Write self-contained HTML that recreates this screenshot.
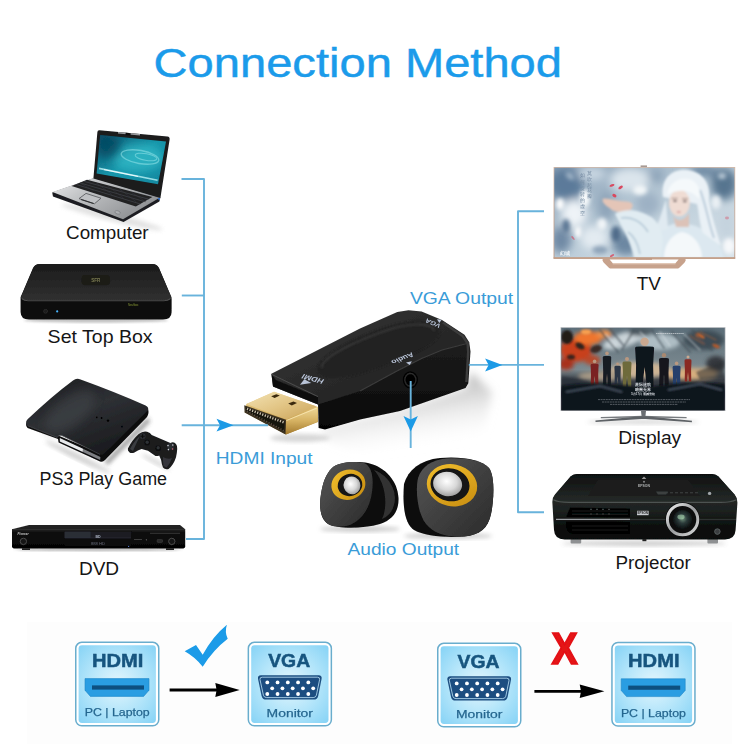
<!DOCTYPE html>
<html lang="en">
<head>
<meta charset="utf-8">
<title>Connection Method</title>
<style>
html,body{margin:0;padding:0;background:#fff;}
body{width:750px;height:750px;overflow:hidden;position:relative;font-family:"Liberation Sans",sans-serif;}
svg{position:absolute;left:0;top:0;display:block;}
text{font-family:"Liberation Sans",sans-serif;}
.lb{fill:#151515;}
.bl{fill:#3a9cd8;}
.ln{stroke:#68b3dc;stroke-width:1.9;fill:none;stroke-linecap:butt;stroke-linejoin:round;}
.ar{fill:#1c9ae6;}
</style>
</head>
<body>
<svg width="750" height="750" viewBox="0 0 750 750">
<defs>
<filter id="b05" x="-10%" y="-10%" width="120%" height="120%"><feGaussianBlur stdDeviation="0.5"/></filter>
<filter id="b1" x="-20%" y="-20%" width="140%" height="140%"><feGaussianBlur stdDeviation="1"/></filter>
<filter id="b2" x="-30%" y="-30%" width="160%" height="160%"><feGaussianBlur stdDeviation="2"/></filter>
<filter id="b4" x="-40%" y="-40%" width="180%" height="180%"><feGaussianBlur stdDeviation="4"/></filter>
<filter id="b8" x="-50%" y="-50%" width="200%" height="200%"><feGaussianBlur stdDeviation="8"/></filter>

<linearGradient id="adTop" x1="0" y1="0" x2="1" y2="1">
<stop offset="0" stop-color="#3a3a3a"/><stop offset="0.45" stop-color="#2b2b2b"/><stop offset="1" stop-color="#1c1c1c"/>
</linearGradient>
<linearGradient id="adSide" x1="0" y1="0" x2="0" y2="1">
<stop offset="0" stop-color="#1d1d1d"/><stop offset="0.6" stop-color="#111"/><stop offset="1" stop-color="#050505"/>
</linearGradient>
<linearGradient id="gold1" x1="0" y1="0" x2="1" y2="1">
<stop offset="0" stop-color="#f3e3b4"/><stop offset="0.5" stop-color="#e2c585"/><stop offset="1" stop-color="#c9a257"/>
</linearGradient>
<linearGradient id="gold2" x1="0" y1="0" x2="0" y2="1">
<stop offset="0" stop-color="#efd99a"/><stop offset="0.5" stop-color="#d6b262"/><stop offset="1" stop-color="#a37a2e"/>
</linearGradient>
<linearGradient id="adShadow" x1="0" y1="0" x2="0.3" y2="1">
<stop offset="0" stop-color="#7c7c7c" stop-opacity="0.9"/><stop offset="0.5" stop-color="#bdbdbd" stop-opacity="0.55"/><stop offset="1" stop-color="#ffffff" stop-opacity="0"/>
</linearGradient>

<radialGradient id="spkBody" cx="0.35" cy="0.3" r="0.9">
<stop offset="0" stop-color="#3a3a3a"/><stop offset="0.6" stop-color="#1c1c1c"/><stop offset="1" stop-color="#050505"/>
</radialGradient>
<linearGradient id="spkFace" x1="0" y1="0" x2="1" y2="1">
<stop offset="0" stop-color="#565656"/><stop offset="1" stop-color="#2a2a2a"/>
</linearGradient>
<radialGradient id="cone" cx="0.45" cy="0.4" r="0.7">
<stop offset="0" stop-color="#ffffff"/><stop offset="0.5" stop-color="#d8d8d8"/><stop offset="1" stop-color="#8a8a8a"/>
</radialGradient>
<linearGradient id="ringY" x1="0" y1="0" x2="1" y2="1">
<stop offset="0" stop-color="#f2c02e"/><stop offset="1" stop-color="#c78c10"/>
</linearGradient>

<linearGradient id="lapScr" x1="0" y1="0" x2="1" y2="1">
<stop offset="0" stop-color="#0a4f6a"/><stop offset="0.5" stop-color="#1796aa"/><stop offset="1" stop-color="#1188a0"/>
</linearGradient>
<linearGradient id="lapBase" x1="0" y1="0" x2="1" y2="0.6">
<stop offset="0" stop-color="#ececed"/><stop offset="0.35" stop-color="#c4c6c8"/><stop offset="1" stop-color="#8d8f92"/>
</linearGradient>
<linearGradient id="stbTop" x1="0" y1="0" x2="0" y2="1">
<stop offset="0" stop-color="#1b1b1b"/><stop offset="1" stop-color="#303030"/>
</linearGradient>
<linearGradient id="stbFront" x1="0" y1="0" x2="0" y2="1">
<stop offset="0" stop-color="#1a1a1a"/><stop offset="0.3" stop-color="#060606"/><stop offset="1" stop-color="#0c0c0c"/>
</linearGradient>
<linearGradient id="ps3Top" x1="0" y1="0" x2="0.6" y2="1">
<stop offset="0" stop-color="#1c1d20"/><stop offset="0.5" stop-color="#2e3034"/><stop offset="1" stop-color="#1a1b1e"/>
</linearGradient>
<linearGradient id="dvdFront" x1="0" y1="0" x2="0" y2="1">
<stop offset="0" stop-color="#343434"/><stop offset="0.12" stop-color="#121212"/><stop offset="1" stop-color="#030303"/>
</linearGradient>

<clipPath id="tvClip"><rect x="554.4" y="167.8" width="180" height="89.6"/></clipPath>
<clipPath id="dpClip"><rect x="561.3" y="327.9" width="163.4" height="82.3"/></clipPath>
<linearGradient id="tvBg" x1="0" y1="0" x2="1" y2="1">
<stop offset="0" stop-color="#8aa1b7"/><stop offset="0.5" stop-color="#bccdd9"/><stop offset="1" stop-color="#d8e3ea"/>
</linearGradient>
<linearGradient id="rose" x1="0" y1="0" x2="0" y2="1">
<stop offset="0" stop-color="#d9b8a2"/><stop offset="1" stop-color="#b58d76"/>
</linearGradient>
<linearGradient id="dpBg" x1="0" y1="0" x2="0" y2="1">
<stop offset="0" stop-color="#5d6f7a"/><stop offset="0.5" stop-color="#7c8a90"/><stop offset="0.62" stop-color="#3a3f46"/><stop offset="1" stop-color="#0e1118"/>
</linearGradient>
<linearGradient id="prTop" x1="0" y1="0" x2="0" y2="1">
<stop offset="0" stop-color="#0e1010"/><stop offset="1" stop-color="#252a28"/>
</linearGradient>
<linearGradient id="prFront" x1="0" y1="0" x2="0" y2="1">
<stop offset="0" stop-color="#2c312f"/><stop offset="0.55" stop-color="#1e2220"/><stop offset="0.72" stop-color="#111413"/><stop offset="1" stop-color="#060707"/>
</linearGradient>
<radialGradient id="lens" cx="0.5" cy="0.45" r="0.6">
<stop offset="0" stop-color="#6f8f7a"/><stop offset="0.4" stop-color="#2b3a3a"/><stop offset="1" stop-color="#050607"/>
</radialGradient>
<linearGradient id="lensRing" x1="0" y1="0" x2="1" y2="1">
<stop offset="0" stop-color="#f2f2f2"/><stop offset="0.5" stop-color="#9a9c9e"/><stop offset="1" stop-color="#d8d8d8"/>
</linearGradient>

<radialGradient id="icoBg" cx="0.5" cy="0.5" r="0.75">
<stop offset="0" stop-color="#e4f6fd"/><stop offset="0.5" stop-color="#b3e5fa"/><stop offset="1" stop-color="#7fd0f5"/>
</radialGradient>
<g id="icoBox">
<rect x="0.75" y="0.75" width="83" height="83.4" rx="6" fill="#ffffff" stroke="#69adcd" stroke-width="1.5"/>
<rect x="3.6" y="3.6" width="77.3" height="77.7" rx="3.4" fill="url(#icoBg)"/>
</g>
<g id="icoHDMI">
<use href="#icoBox"/>
<text x="42.6" y="25.6" font-size="18.6" font-weight="bold" fill="#18557f" stroke="#18557f" stroke-width="0.5" text-anchor="middle" textLength="51.4" lengthAdjust="spacingAndGlyphs">HDMI</text>
<path d="M10 37H74V48.6L68.6 54.8H15.4L10 48.6Z" fill="#2a9de2"/>
<path d="M10 37H74V48.6L68.6 54.8H15.4L10 48.6Z" fill="none" stroke="#1f86c8" stroke-width="0.6"/>
<rect x="17" y="43.8" width="52" height="4.2" fill="#0f4f80"/>
<text x="42.2" y="74.8" font-size="11.7" fill="#25668f" stroke="#25668f" stroke-width="0.25" text-anchor="middle" textLength="65" lengthAdjust="spacingAndGlyphs">PC | Laptop</text>
</g>
<g id="icoVGA">
<use href="#icoBox"/>
<text x="41.6" y="25.6" font-size="18.6" font-weight="bold" fill="#18557f" stroke="#18557f" stroke-width="0.5" text-anchor="middle" textLength="42" lengthAdjust="spacingAndGlyphs">VGA</text>
<path d="M13.4 33.6H71Q74.6 33.6 74 37.2L70.6 54.4Q69.8 58 66 58H18.6Q14.8 58 14 54.4L10.4 37.2Q9.8 33.6 13.4 33.6Z" fill="#1b4d80"/>
<path d="M14.6 35.6H69.8Q72.4 35.6 72 38L68.8 53.6Q68.2 56 65.6 56H19Q16.4 56 15.8 53.6L12.4 38Q12 35.6 14.6 35.6Z" fill="none" stroke="#bfe4f7" stroke-width="0.8"/>
<g fill="#ffffff">
<circle cx="19.7" cy="40.8" r="1.9"/><circle cx="29.95" cy="40.8" r="1.9"/><circle cx="40.2" cy="40.8" r="1.9"/><circle cx="50.45" cy="40.8" r="1.9"/><circle cx="60.7" cy="40.8" r="1.9"/>
<circle cx="24.6" cy="46.7" r="1.9"/><circle cx="34.85" cy="46.7" r="1.9"/><circle cx="45.1" cy="46.7" r="1.9"/><circle cx="55.35" cy="46.7" r="1.9"/><circle cx="65.6" cy="46.7" r="1.9"/>
<circle cx="19.7" cy="52.4" r="1.9"/><circle cx="29.95" cy="52.4" r="1.9"/><circle cx="40.2" cy="52.4" r="1.9"/><circle cx="50.45" cy="52.4" r="1.9"/><circle cx="60.7" cy="52.4" r="1.9"/>
</g>
<text x="42.2" y="75" font-size="11.7" fill="#25668f" stroke="#25668f" stroke-width="0.25" text-anchor="middle" textLength="46.4" lengthAdjust="spacingAndGlyphs">Monitor</text>
</g>
<clipPath id="lapClip"><path d="M100.2 135L166 141.6L158 184.2L96.6 173.6Z"/></clipPath>

</defs>

<rect width="750" height="750" fill="#ffffff"/>

<!-- title -->
<text x="153.6" y="76.5" font-size="41.5" fill="#1b9bea" stroke="#1b9bea" stroke-width="0.45" textLength="408.4" lengthAdjust="spacingAndGlyphs">Connection Method</text>



<g id="adapter">
<!-- shadow / reflection -->
<path d="M322 428L400 410L466 388L471 372L492 392L484 436L430 458L360 454L326 440Z" fill="url(#adShadow)" filter="url(#b4)"/>
<ellipse cx="300" cy="438" rx="30" ry="4" fill="#bbb" opacity="0.6" filter="url(#b2)"/>
<!-- gold plug -->
<g filter="url(#b05)">
<path d="M246.4 404.1L274.1 391.7L318 407L318 422L285.9 434.6L244.6 412.2Z" fill="url(#gold2)"/>
<path d="M246.4 404.1L274.1 391.7L316 406.2L286.2 419.6Z" fill="url(#gold1)"/>
<path d="M244.3 405.2L286 419.8L285.6 434.6L244.6 412.4Z" fill="#3a3020"/>
<path d="M246 407.4L284.6 421.2L284.4 431.6L246.2 411Z" fill="#15120c"/>
<path d="M247 408.8L283.8 422.4" stroke="#cfc6b2" stroke-width="2.4" stroke-dasharray="1.2 1.5" fill="none"/>
<path d="M247 411.2L283.8 430.6" stroke="#5a5040" stroke-width="1.6" stroke-dasharray="1.2 1.5" fill="none"/>
<path d="M286.2 419.9L317.6 406.9L317.8 421.8L285.8 434.5Z" fill="url(#gold2)"/>
<path d="M271.2 396.2L276.3 394.2L279.8 395.6L274.6 397.9Z" fill="#3b2a10"/>
<path d="M288.2 403.6L293.4 401.4L297 403L291.8 405.4Z" fill="#3b2a10"/>
<path d="M286.5 420.5L317 408" stroke="#fbe9b5" stroke-width="1" fill="none" opacity="0.8"/>
</g>
<!-- body -->
<g filter="url(#b05)">
<path d="M318 403L360 389L397 368L421.6 355.3L442 346L469.2 342.3L470.5 351.6L468.3 383.3L465.5 388L400 411L360 419.5L325 429.5L318.6 428Z" fill="url(#adSide)"/>
<path d="M271.4 373.8L360 328.6L397.3 312L408.5 310.2L421.6 311.5L442 320L464.5 334.8L469.4 342.6L442 350L421.6 358.5L397 371L360 391L318 404.5L273 386.5Z" fill="url(#adTop)"/>
<!-- front-left lip above plug -->
<path d="M271.4 373.8L273 386.5L318 404.5L318 397L276 380Z" fill="#111"/>
<path d="M271.6 374.4L318 396.6" stroke="#555" stroke-width="0.8" fill="none"/>
</g>
<!-- raised oval -->
<path d="M318 372C312 360 350 338 392 325C420 317 442 322 440 333C437 345 410 356 384 366C352 378 324 384 318 372Z" fill="#232323" filter="url(#b1)"/>
<path d="M322 368C320 358 356 340 394 328C416 322 434 324 434 331" stroke="#3d3d3d" stroke-width="1.6" fill="none" filter="url(#b1)"/>
<!-- right-edge highlight -->
<path d="M443 322.6L462.6 336L467.6 343.4L468.2 352L466.4 382" stroke="#3c3c3c" stroke-width="2.4" fill="none" filter="url(#b05)"/>
<path d="M360 391L397 371L421.6 358.5L442 350L469 343" stroke="#3c3c3c" stroke-width="1.2" fill="none" filter="url(#b05)"/>
<!-- audio jack -->
<g filter="url(#b05)">
<ellipse cx="410.4" cy="379.8" rx="7.6" ry="8.6" fill="#060606"/>
<ellipse cx="410.4" cy="379.8" rx="5.6" ry="6.4" fill="none" stroke="#2e2e2e" stroke-width="1.2"/>
<ellipse cx="410.6" cy="380" rx="3" ry="3.6" fill="#000"/>
</g>
<!-- tiny labels -->
<g fill="#b9c4d8" font-weight="bold" filter="url(#b05)" text-anchor="middle">
<text transform="translate(312.7 379) rotate(195.5) skewX(-18)" y="2.5" font-size="7" textLength="22" lengthAdjust="spacingAndGlyphs">HDMI</text>
<path d="M300 384.7L311.3 383L304.3 379.3Z"/>
<text transform="translate(402.8 358.5) rotate(157.4) skewX(18)" y="2.4" font-size="6.6" textLength="23" lengthAdjust="spacingAndGlyphs">Audio</text>
<path d="M406 362.4L411.9 361.3L409.7 365Z"/>
<text transform="translate(432.7 323.3) rotate(204) skewX(-15)" y="2.2" font-size="6" textLength="16" lengthAdjust="spacingAndGlyphs">VGA</text>
<path d="M437 319.2L441.7 319.7L439.3 323Z"/>
</g>
</g>
<g id="speakers">
<ellipse cx="360" cy="529" rx="40" ry="3" fill="#999" opacity="0.5" filter="url(#b2)"/>
<ellipse cx="448" cy="536" rx="44" ry="3" fill="#999" opacity="0.5" filter="url(#b2)"/>
<!-- left speaker -->
<g filter="url(#b05)">
<path d="M332 468C338 462 356 461 368 463C386 467 398 482 398.5 498C399 512 392 520 380 524C362 529 338 529 328 524C320 519 319 506 321 494C323 482 326 474 332 468Z" fill="#0b0b0b"/>
<path d="M332 468C338 462 354 461 364 463C372 466 374 478 372 492C370 508 362 520 350 525C340 528 330 527 326 522C320 516 319 506 321 494C323 482 326 474 332 468Z" fill="url(#spkFace)"/>
<path d="M374 470C386 474 395 486 395 498C395 508 390 516 382 519C388 506 386 484 374 470Z" fill="#3a3a3a" opacity="0.8"/>
<ellipse cx="348.4" cy="484.7" rx="17.2" ry="15" transform="rotate(-18 348.4 484.7)" fill="url(#ringY)"/>
<ellipse cx="350" cy="485" rx="12.4" ry="11" transform="rotate(-18 350 485)" fill="#141414"/>
<ellipse cx="352" cy="485.4" rx="8.4" ry="9" transform="rotate(-18 352 485.4)" fill="url(#cone)"/>
</g>
<!-- right speaker -->
<g filter="url(#b05)">
<path d="M404 484C408 470 420 460 440 458C462 456 482 460 489 468C495 476 494 500 491 514C488 528 480 535 464 536.5C446 538 424 536 414 530C406 525 402 510 404 484Z" fill="#0a0a0a"/>
<path d="M418 478C422 466 432 460 446 458.5C464 457 482 460 489 468C495 476 494 500 491 514C488 528 480 535 464 536.5C448 537.5 434 534 426 524C418 514 415 492 418 478Z" fill="url(#spkFace)"/>
<ellipse cx="452" cy="485.2" rx="25.4" ry="21" transform="rotate(12 452 485.2)" fill="url(#ringY)"/>
<ellipse cx="450" cy="484.8" rx="19.6" ry="16.4" transform="rotate(12 450 484.8)" fill="#121212"/>
<ellipse cx="447.6" cy="484" rx="14.6" ry="12.2" transform="rotate(12 447.6 484)" fill="url(#cone)"/>
</g>
</g>
<g id="laptop" filter="url(#b05)">
<ellipse cx="112" cy="217" rx="52" ry="4" fill="#aaa" opacity="0.35" filter="url(#b2)" transform="rotate(14 112 217)"/>
<!-- base -->
<path d="M52.2 192.4L93.6 178.2L160.4 197.6L159.4 201.4L123.6 222L53 196.6Z" fill="#1d1e20"/>
<path d="M52.4 192L93.6 178L160 197.6L123 219.2Z" fill="url(#lapBase)"/>
<!-- keyboard -->
<path d="M87 179.8L152.4 197L135.8 206.6L71.6 186Z" fill="#202124"/>
<path d="M84.2 181.4L148.6 199.2M80.4 183L144.4 201.6M76.4 184.6L140.4 204" stroke="#45464a" stroke-width="0.7" fill="none"/>
<path d="M80 183L94 191M96 182.6L112 194.6M108 186L124 198.6M120 189.4L136 201.6M132 192.6L146 202" stroke="#3a3b3f" stroke-width="0.5" fill="none"/>
<!-- touchpad -->
<path d="M86 193.4L101 198.2L94.4 203.8L79 198.6Z" fill="#bfc1c4" stroke="#5e6063" stroke-width="0.9"/>
<path d="M81 199.4L93.6 203.6" stroke="#2e2f31" stroke-width="1.1"/>
<ellipse cx="117.6" cy="212.4" rx="2.8" ry="1.6" fill="#aeb0b3" stroke="#6e7073" stroke-width="0.5" transform="rotate(18 117.6 212.4)"/>
<!-- lid -->
<path d="M99.4 130.2L167.4 136.6Q170 137 169.6 139.6L160.4 198L93.4 178.6L97.4 132Q97.6 130 99.4 130.2Z" fill="#1a1b1d"/>
<path d="M100.2 135L166 141.6L158 184.2L96.6 173.6Z" fill="url(#lapScr)"/>
<g clip-path="url(#lapClip)"><ellipse cx="138" cy="158" rx="26" ry="14" fill="#3cc6d2" opacity="0.55" filter="url(#b4)"/>
<ellipse cx="108" cy="146" rx="12" ry="12" fill="#063c54" opacity="0.6" filter="url(#b4)"/></g>
<!-- swirl -->
<g fill="none" stroke="#9feaee" opacity="0.5">
<ellipse cx="140" cy="157" rx="19" ry="6.6" transform="rotate(10 140 157)" stroke-width="1.4"/>
<ellipse cx="146" cy="157" rx="11" ry="3.4" transform="rotate(10 146 157)" stroke-width="1"/>
</g>
<path d="M99 168.4L157.6 180.2" stroke="#b9f2f5" stroke-width="1.6" opacity="0.8"/>
<path d="M104 169.6L138 176.4" stroke="#ffffff" stroke-width="1" opacity="0.85"/>
<path d="M118 132.8L140 134.8" stroke="#9a9c9f" stroke-width="1.4"/>
<rect x="125.6" y="133" width="5" height="2.2" fill="#0a0a0b" transform="rotate(5.5 128 134)"/>
<path d="M157.4 198.6L160 197.8L159.6 200.6Z" fill="#3e7fe0"/>
</g>
<g id="stb" filter="url(#b05)">
<ellipse cx="96" cy="320.4" rx="72" ry="2.4" fill="#888" opacity="0.5" filter="url(#b1)"/>
<path d="M20.6 299Q20.4 296.6 22 294L33 268Q35 264 40 264L152 264Q157 264 159 268L170 294Q171.6 296.6 171.6 299L171.6 312Q171.6 319.4 163 319.4L29 319.4Q20.6 319.4 20.6 312Z" fill="url(#stbFront)"/>
<path d="M21 297.4Q21.4 295.6 22.4 293.4L33.4 268Q35 264 40 264L152 264Q157 264 158.8 268L169.8 293.4Q170.8 295.6 171.2 297.4Q171 300 166 300L26 300Q21 300 21 297.4Z" fill="url(#stbTop)"/>
<path d="M22 298.6Q24 300.8 28 300.8L164 300.8Q168 300.8 170.4 298.6" stroke="#505050" stroke-width="1.1" fill="none"/>
<rect x="81.4" y="275" width="28.8" height="10.2" rx="4" fill="#1b1b14"/>
<text x="95.8" y="282.4" font-size="4.6" fill="#7a7a52" text-anchor="middle" font-weight="bold">SFR</text>
<circle cx="57.2" cy="311.4" r="1.1" fill="#49b6ff"/>
<circle cx="45.6" cy="311.2" r="2" fill="#1c1c1c" stroke="#2d2d2d" stroke-width="0.8"/>
<text x="128" y="306.4" font-size="2.8" fill="#8a9a3a">Neufbox</text>
</g>
<g id="ps3" filter="url(#b05)">
<ellipse cx="78" cy="457" rx="36" ry="3" fill="#999" opacity="0.45" filter="url(#b2)" transform="rotate(26 78 457)"/>
<path d="M104 462L148 417L150 422L108 465Z" fill="#555" opacity="0.55" filter="url(#b2)"/>
<!-- lower body -->
<path d="M26 423.4L57 435L102 454L148 409Q149.4 413 147 417L105 460Q102.6 462.6 100 461.4L58.6 442.6L58 439L27.6 428Q25.8 426.6 26 423.4Z" fill="#0b0b0c"/>
<!-- slot face -->
<path d="M59.8 438L83 448.8L82.8 452L59.8 441.4Z" fill="#e8eaec"/>
<path d="M83 448.8L100.4 457L100.2 460L82.8 452Z" fill="#7d7f83"/>
<!-- top shell -->
<path d="M26 423.4Q25.4 421.2 27.6 419.2Q52 396 73 380.4Q76.6 377.8 80.6 379.6Q116 392.4 145.6 405.6Q149 407.2 148 410.2L104.4 453.6Q102.6 455.4 100 454.4L62.9 436Q59 434.2 57.2 437.4L27.6 425.8Q26.2 425.2 26 423.4Z" fill="url(#ps3Top)"/>
<ellipse cx="70" cy="412" rx="30" ry="14" fill="#45484d" opacity="0.5" filter="url(#b4)" transform="rotate(-38 70 412)"/>
<path d="M27.6 425.8L57.2 437.4Q59 434.2 62.9 436L100 454.4" stroke="#4c4e52" stroke-width="0.7" fill="none"/>
<circle cx="96.8" cy="417.4" r="0.8" fill="#000"/><circle cx="101.6" cy="418" r="0.9" fill="#000"/><circle cx="108" cy="420.6" r="1.2" fill="#000"/><circle cx="122" cy="426.6" r="0.9" fill="#000"/>
<!-- controller -->
<g>
<ellipse cx="156" cy="462" rx="16" ry="2.4" fill="#999" opacity="0.35" filter="url(#b2)" transform="rotate(28 156 462)"/>
<path d="M127.9 448.5Q132 440 138.7 434Q143 430.6 147.1 431.7Q150.4 432.6 151.7 434.9L170.4 442.9Q174 441.4 176 444Q177.6 446 177.2 449Q177 453 176 457.3Q173.6 465 168.6 469Q165 470 163 467.6Q161.6 464 161.1 460.1L159.2 455.5Q157.4 456.4 155.5 455.9L148 450.8L141.5 448.9Q138 450 134 452.7Q131 453.6 129.3 452.2Q127.4 450.6 127.9 448.5Z" fill="#1a1b1e"/>
<path d="M130 449Q134 441 140 436Q136 444 133 451Z" fill="#3a3c40"/>
<path d="M163.6 466Q162.6 461 163 457Q168 460 172 458Q170 464 166.6 467.6Z" fill="#34363a"/>
<circle cx="142.6" cy="436.2" r="3" fill="#2c2e32"/>
<path d="M140.6 436.2H144.6M142.6 434.2V438.2" stroke="#0c0c0e" stroke-width="1.1"/>
<circle cx="170.6" cy="446.4" r="3.3" fill="#2c2e32"/>
<circle cx="147.2" cy="442.6" r="2.8" fill="#0a0a0c"/><circle cx="147.2" cy="442.2" r="1.7" fill="#2e3034"/>
<circle cx="158.2" cy="448.2" r="2.8" fill="#0a0a0c"/><circle cx="158.2" cy="447.8" r="1.7" fill="#2e3034"/>
<circle cx="172.8" cy="445" r="0.8" fill="#c9ccd2"/><circle cx="168" cy="445.6" r="0.8" fill="#c9ccd2"/>
<circle cx="172.6" cy="449" r="0.8" fill="#d0687a"/><circle cx="168.4" cy="449.6" r="0.8" fill="#c9ccd2"/>
</g>
</g>
<g id="dvd" filter="url(#b05)">
<ellipse cx="98" cy="549.6" rx="84" ry="1.6" fill="#777" opacity="0.5" filter="url(#b1)"/>
<path d="M29 525L180 525L185.2 529.2L12 529.2Z" fill="#232323"/>
<path d="M12 529L185.2 529L185.2 546.6Q185.2 548.4 183.4 548.4L13.8 548.4Q12 548.4 12 546.6Z" fill="url(#dvdFront)"/><rect x="22" y="548.2" width="8" height="1.8" fill="#222"/><rect x="166" y="548.2" width="8" height="1.8" fill="#222"/>
<rect x="64.6" y="531.6" width="66.6" height="14" fill="#0a0b0e"/>
<rect x="64.6" y="531.6" width="66.6" height="6.4" fill="#1a1c22"/>
<rect x="64.6" y="531.6" width="26" height="6.4" fill="#2a2d36"/>
<path d="M64.8 538H131" stroke="#34363e" stroke-width="0.6"/>
<text x="98" y="537.6" font-size="3.6" fill="#aab0c0" text-anchor="middle" font-weight="bold">BD</text>
<text x="98" y="545" font-size="4.2" fill="#6a6e78" text-anchor="middle">888 HD</text>
<circle cx="23.4" cy="541.4" r="3.2" fill="#191919" stroke="#505050" stroke-width="0.9"/>
<circle cx="171.8" cy="541.4" r="3.2" fill="#191919" stroke="#505050" stroke-width="0.9"/>
<text x="17.6" y="534.6" font-size="3" fill="#c8c8c8" font-style="italic" font-weight="bold">Pioneer</text>
<rect x="157" y="539.4" width="5.6" height="3" rx="1" fill="#2a2a2a" stroke="#555" stroke-width="0.4"/>
<path d="M134 539.6H142" stroke="#666" stroke-width="0.6"/>
<circle cx="146.4" cy="539.8" r="0.6" fill="#777"/>
<circle cx="128.6" cy="546.4" r="0.6" fill="#5a7ad0"/>
<path d="M150 533.4H180" stroke="#555" stroke-width="0.5"/>
</g>
<g id="tv">
<rect x="553.6" y="167" width="181.6" height="91.8" fill="url(#rose)"/>
<g clip-path="url(#tvClip)">
<rect x="554" y="167" width="181" height="91" fill="url(#tvBg)"/>
<g filter="url(#b4)">
<ellipse cx="566" cy="184" rx="18" ry="16" fill="#5b7a9a"/>
<ellipse cx="592" cy="174" rx="14" ry="7" fill="#c9d7e2"/>
<ellipse cx="574" cy="214" rx="13" ry="14" fill="#eef3f7"/>
<ellipse cx="561" cy="240" rx="10" ry="13" fill="#7089a4"/>
<ellipse cx="594" cy="238" rx="14" ry="12" fill="#e3ebf1"/>
<ellipse cx="606" cy="206" rx="9" ry="16" fill="#8fa5ba"/>
<ellipse cx="630" cy="180" rx="20" ry="12" fill="#dbe5ec"/>
<ellipse cx="648" cy="204" rx="12" ry="12" fill="#9db1c4"/>
<ellipse cx="724" cy="184" rx="13" ry="16" fill="#56748f"/>
<ellipse cx="727" cy="226" rx="9" ry="16" fill="#c5d3de"/>
<ellipse cx="704" cy="171" rx="14" ry="6" fill="#6a86a0"/>
<ellipse cx="626" cy="244" rx="14" ry="12" fill="#6c87a2"/>
<ellipse cx="656" cy="176" rx="8" ry="7" fill="#8ea4b9"/>
</g>
<g filter="url(#b2)">
<ellipse cx="585" cy="198" rx="5" ry="9" fill="#f6f9fb"/>
<ellipse cx="566" cy="226" rx="4" ry="7" fill="#5b7794"/>
<ellipse cx="578" cy="232" rx="3" ry="6" fill="#ffffff"/>
<ellipse cx="602" cy="224" rx="5" ry="6" fill="#f1f5f8"/>
<ellipse cx="616" cy="234" rx="5" ry="8" fill="#506c8a"/>
<ellipse cx="640" cy="190" rx="7" ry="5" fill="#f2f6f8"/>
<ellipse cx="560" cy="204" rx="4" ry="6" fill="#ffffff"/>
<ellipse cx="570" cy="176" rx="5" ry="3" fill="#9fb3c6" transform="rotate(40 570 176)"/>
<ellipse cx="716" cy="202" rx="5" ry="7" fill="#eaf0f4"/>
<ellipse cx="729" cy="246" rx="6" ry="8" fill="#f6f8fa"/>
<ellipse cx="722" cy="176" rx="4" ry="3" fill="#c0cfdb"/>
<ellipse cx="600" cy="250" rx="8" ry="4" fill="#8da3b8"/>
</g>
<!-- figure: garments, hair, face (abstract) -->
<g filter="url(#b1)">
<path d="M646 258C648 238 660 226 678 223C702 224 720 236 724 258Z" fill="#dce8f0"/>
<path d="M664 258C664 244 672 234 682 232C694 234 702 246 702 258Z" fill="#f4f8fa"/>
<path d="M663 197C660 178 673 168 688 170C703 172 711 184 709 200C711 214 716 230 721 246L703 233C699 222 699 212 697 204Z" fill="#eaf1f6"/>
<path d="M700 190C706 204 708 222 714 238" stroke="#bccddb" stroke-width="2" fill="none"/>
<path d="M666 200C662 210 660 222 653 233L668 229Z" fill="#e0eaf1"/>
<ellipse cx="679.4" cy="203" rx="10.4" ry="13.4" fill="#efdcd3"/>
<path d="M667 195C669 182 680 176 692 180C699 184 701 192 699 199C692 190 680 188 667 195Z" fill="#f5f9fb"/>
<path d="M671.6 198.4H677.6M682 198.8H688" stroke="#8d7772" stroke-width="0.9"/>
<ellipse cx="675" cy="201" rx="2" ry="0.9" fill="#6f5f60"/><ellipse cx="684.8" cy="201.4" rx="2" ry="0.9" fill="#6f5f60"/>
<ellipse cx="678.8" cy="212" rx="2.2" ry="0.8" fill="#cf8f8f"/>
<path d="M673 215C676 222 684 222 689 213L689 227L676 227Z" fill="#dcc2b8"/>
<!-- hand and sleeve -->
<path d="M603 198.6C609 197.6 618 201.4 626 201.4C632.6 201.4 634.6 205.6 630.6 209.8C622 214 613.6 212 609.6 208C605.6 206 601 201.6 603 198.6Z" fill="#e4c5b7"/>
<path d="M615 214C625 207.6 640 209.6 652 217.6C662.6 226 665 240 661 258L634 258C630 240 621.6 226 615 214Z" fill="#e1ecf2"/>
<path d="M621 218C632 216 642 222 648 232M628 232C634 236 638 244 640 254" stroke="#b6cad8" stroke-width="1.6" fill="none"/>
</g>
<!-- petals -->
<g fill="#d9485e" filter="url(#b05)">
<ellipse cx="612" cy="185.4" rx="2.6" ry="1.1" transform="rotate(-20 612 185.4)"/>
<ellipse cx="620.6" cy="187.4" rx="2.6" ry="1.3" transform="rotate(-35 620.6 187.4)"/>
<ellipse cx="614.4" cy="195.6" rx="2.2" ry="1.6" transform="rotate(30 614.4 195.6)"/>
<ellipse cx="573" cy="238" rx="2.4" ry="0.9" transform="rotate(50 573 238)" opacity="0.6"/>
<ellipse cx="612" cy="255.6" rx="2.4" ry="1" transform="rotate(-30 612 255.6)" opacity="0.8"/>
<ellipse cx="727" cy="218" rx="2" ry="1.4" opacity="0.4"/>
</g>
<!-- vertical caption -->
<g font-family="'Liberation Sans','Noto Sans CJK SC',sans-serif" font-size="5.4" fill="#7389a0" filter="url(#b05)" text-anchor="middle">
<text><tspan x="589.6" y="175">莫</tspan><tspan x="589.6" y="180.8">吹</tspan><tspan x="589.6" y="186.6">起</tspan><tspan x="589.6" y="192.4">花</tspan><tspan x="589.6" y="198.2">瓣</tspan></text>
<text><tspan x="582" y="177.4">如</tspan><tspan x="582" y="183.6">何</tspan><tspan x="582" y="189.8">旋</tspan><tspan x="582" y="196">转</tspan><tspan x="582" y="202.2">的</tspan><tspan x="582" y="208.4">虚</tspan><tspan x="582" y="214.6">空</tspan></text>
</g>
<g fill="#eef3f7" font-size="5" font-weight="bold" filter="url(#b05)" font-family="'Liberation Sans','Noto Sans CJK SC',sans-serif"><text x="560" y="255">幻城</text></g>
</g>
<!-- stand -->
<path d="M602.8 258.6H685.4Q686.4 260.6 684.6 262.4L679.6 267.4Q678.4 268.6 676.4 268.6H611.8Q609.8 268.6 608.6 267.4L603.6 262.4Q601.8 260.6 602.8 258.6Z" fill="#c7a28c"/>
<path d="M609.6 259.6H678.6L675.4 263.2H612.8Z" fill="#ffffff"/>
<path d="M612.8 263.8H675.4" stroke="#e6cdbd" stroke-width="1" />
<path d="M553.6 258H735.2" stroke="#c4a08a" stroke-width="1.4"/>
<rect x="636" y="258" width="16" height="1.8" fill="#c09a84"/>
<rect x="640.6" y="165.4" width="6.4" height="1.6" fill="#a79a94"/>
</g>
<g id="display">
<ellipse cx="643" cy="422" rx="56" ry="2" fill="#999" opacity="0.4" filter="url(#b2)"/>
<rect x="560.6" y="327.2" width="164.8" height="83.8" fill="#a9adb2"/>
<g clip-path="url(#dpClip)">
<rect x="561" y="328" width="164" height="83" fill="url(#dpBg)"/>
<g filter="url(#b2)">
<ellipse cx="576" cy="350" rx="16" ry="12" fill="#c8401c"/>
<ellipse cx="588" cy="338" rx="14" ry="7" fill="#ee742e"/>
<ellipse cx="604" cy="334" rx="8" ry="4" fill="#f09048"/>
<ellipse cx="566" cy="364" rx="8" ry="6" fill="#a8321c"/>
<ellipse cx="592" cy="360" rx="8" ry="5" fill="#b8482a"/>
<ellipse cx="624" cy="340" rx="22" ry="7" fill="#c9d3d8" transform="rotate(-18 624 340)"/>
<ellipse cx="660" cy="342" rx="20" ry="8" fill="#aebdc4"/>
<ellipse cx="640" cy="332" rx="12" ry="4" fill="#4a565e"/>
<ellipse cx="704" cy="340" rx="20" ry="10" fill="#3c4c54"/>
<ellipse cx="716" cy="364" rx="10" ry="8" fill="#34383c"/>
<ellipse cx="690" cy="374" rx="28" ry="6" fill="#d6ae7e"/>
<ellipse cx="640" cy="370" rx="30" ry="8" fill="#ccb494"/>
<ellipse cx="604" cy="376" rx="26" ry="5" fill="#a79a86"/>
<ellipse cx="580" cy="394" rx="22" ry="8" fill="#161e2c"/>
<ellipse cx="706" cy="394" rx="22" ry="8" fill="#182434"/>
<ellipse cx="643" cy="400" rx="44" ry="8" fill="#090b10"/>
</g>
<g filter="url(#b1)">
<ellipse cx="567" cy="337" rx="6" ry="7" fill="#241a18"/>
<ellipse cx="580" cy="346" rx="5" ry="3" fill="#2e201c" transform="rotate(30 580 346)"/>
<ellipse cx="596" cy="349" rx="6" ry="3.6" fill="#3a2a26" transform="rotate(-20 596 349)"/>
<ellipse cx="571" cy="357" rx="4" ry="2.6" fill="#3a221c"/>
<ellipse cx="586" cy="332" rx="5" ry="2.4" fill="#f8a050"/>
<ellipse cx="700" cy="336" rx="5" ry="2" fill="#c8642c" transform="rotate(25 700 336)"/>
<ellipse cx="716" cy="346" rx="4" ry="1.6" fill="#b85a2a" transform="rotate(25 716 346)"/>
</g>
<g stroke-linecap="round" filter="url(#b1)" opacity="0.55">
<path d="M600 330L618 352M610 329L624 346M634 330L622 350M652 330L664 348M672 332L690 352M692 330L712 350" stroke="#3f4a52" stroke-width="2"/>
<path d="M606 334L616 346M660 332L670 346M684 334L700 350M640 332L648 340" stroke="#dfe6ea" stroke-width="1.4"/>
<path d="M700 332L716 340M690 336L704 344" stroke="#c9662e" stroke-width="1.2"/>
<path d="M696 372L722 362L724 378L700 380Z" fill="#2c2e32" stroke="none"/>
<path d="M562 376L590 382L580 388L562 386Z" fill="#232a36" stroke="none"/>
</g>
<g filter="url(#b05)"><circle cx="594.6" cy="361.4" r="1.8" fill="#b99880"/><path d="M590.6 365.1Q590.6 363.7 592.6 363.7H596.6Q598.6 363.7 598.6 365.1L598.2 373.9L598.4 385.6H595.6L594.6 375.9L593.6 385.6H590.8L591.0 373.9Z" fill="#7a2420"/><circle cx="607" cy="353.4" r="1.8" fill="#b99880"/><path d="M602.8 357.3Q602.8 355.9 604.9 355.9H609.1Q611.2 355.9 611.2 357.3L610.8 371.4L611.0 387.6H608.0L607.0 373.4L606.0 387.6H603.0L603.2 371.4Z" fill="#191b22"/><circle cx="617.6" cy="363.8" r="1.4" fill="#b99880"/><path d="M614.4 367.2Q614.4 365.8 616.0 365.8H619.2Q620.8 365.8 620.8 367.2L620.5 374.5L620.6 384.4H618.4L617.6 376.5L616.8 384.4H614.6L614.7 374.5Z" fill="#2a3444"/><circle cx="627" cy="359.0" r="2.0" fill="#b99880"/><path d="M622.5 363.0Q622.5 361.6 624.8 361.6H629.2Q631.5 361.6 631.5 363.0L631.0 373.5L631.3 387.0H628.1L627.0 375.5L625.9 387.0H622.7L623.0 373.5Z" fill="#6e6a3a"/><circle cx="644.6" cy="341.8" r="4.2" fill="#c9a890"/><path d="M635.1 348.0Q635.1 346.6 639.9 346.6H649.4Q654.1 346.6 654.1 348.0L653.1 365.1L653.6 387.6H647.0L644.6 367.1L642.2 387.6H635.6L636.1 365.1Z" fill="#10121a"/><circle cx="664" cy="355.2" r="2.2" fill="#a88870"/><path d="M659.0 359.4Q659.0 358.0 661.5 358.0H666.5Q669.0 358.0 669.0 359.4L668.5 372.8L668.8 389.0H665.2L664.0 374.8L662.8 389.0H659.2L659.5 372.8Z" fill="#15171e"/><circle cx="676.6" cy="363.4" r="1.8" fill="#b99880"/><path d="M672.6 367.1Q672.6 365.7 674.6 365.7H678.6Q680.6 365.7 680.6 367.1L680.2 375.9L680.4 387.6H677.6L676.6 377.9L675.6 387.6H672.8L673.0 375.9Z" fill="#28416c"/><circle cx="688" cy="357.1" r="1.5" fill="#c9a890"/><path d="M684.5 360.7Q684.5 359.3 686.2 359.3H689.8Q691.5 359.3 691.5 360.7L691.1 369.9L691.3 381.6H688.9L688.0 371.9L687.1 381.6H684.7L684.9 369.9Z" fill="#8a2a22"/></g>
<g filter="url(#b1)"><path d="M561 386Q600 380 643 388Q690 380 725 384V411H561Z" fill="#10141c"/>
<path d="M566 392L600 386L622 392M668 390L700 384L722 390" stroke="#4a5666" stroke-width="1.4" fill="none"/></g>
<g fill="#d2d6dc" font-size="3.8" font-weight="bold" text-anchor="middle" filter="url(#b05)" font-family="'Liberation Sans','Noto Sans CJK SC',sans-serif">
<text x="643" y="386.4">星际迷航</text>
<text x="643" y="391.4" font-size="4.2">暗黑无界</text>
<text x="643" y="395.4" font-size="2.8">5月17日 震撼登陆</text>
</g>
<path d="M598 399.6H690M602 402H686M610 404.4H678" stroke="#9da1a7" stroke-width="0.7" stroke-dasharray="2 0.6" opacity="0.7"/>
<path d="M656 333.4H684" stroke="#e2e6e9" stroke-width="0.8" stroke-dasharray="1.6 0.5" opacity="0.85"/>
</g>
<!-- stand -->
<path d="M641 411H646L645.4 416.6H641.6Z" fill="#6a6e72"/>
<path d="M600.8 417L643 415.8L686.6 417L686.6 418.2L643 417.4L600.8 418.2Z" fill="#777b7f"/><path d="M595.4 420.6L641 416.2H646L692 420.8L691.8 422.2L645.6 419H641.4L595.6 422Z" fill="#5e6266"/>
</g>
<g id="projector" filter="url(#b05)">
<ellipse cx="644" cy="543.4" rx="82" ry="2.4" fill="#888" opacity="0.45" filter="url(#b2)"/>
<rect x="570.6" y="538.4" width="10.6" height="5" rx="1" fill="#8e9092"/>
<rect x="707.4" y="538.4" width="10.6" height="5" rx="1" fill="#8e9092"/>
<path d="M552.4 503Q552 498 555 494.6L570.6 476.6Q573 474 577 474L712 474Q716 474 718.4 476.6L734.6 494.6Q737.6 498 737.4 503L735.6 530Q735 539.4 725 539.4L564.6 539.4Q554.6 539.4 554 530Z" fill="url(#prFront)"/>
<path d="M553 499.4Q553.6 496.4 555.4 494.2L570.6 476.6Q573 474 577 474L712 474Q716 474 718.4 476.6L734.2 494.2Q736 496.4 736.6 499.4Q731 501.6 721 501.6L569 501.6Q559 501.6 553 499.4Z" fill="url(#prTop)"/>
<path d="M553.4 499.8Q558 502.4 569 502.4L721 502.4Q731 502.4 736.4 499.8" stroke="#4d5351" stroke-width="1.1" fill="none"/>
<!-- top details -->
<path d="M598 480L688 480L700 496L588 496Z" fill="#1b1e1e"/>
<text x="644" y="486.8" font-size="3.4" fill="#b4b4b4" text-anchor="middle" font-weight="bold">EPSON</text>
<path d="M641.6 479L644 476.4L646.4 479Z" fill="#999"/><circle cx="644" cy="481.8" r="1" fill="#888"/>
<circle cx="709.6" cy="493.4" r="1.7" fill="#a0a6aa"/>
<path d="M660 492.8H698" stroke="#4a4e4e" stroke-width="0.8" stroke-dasharray="3 2"/>
<path d="M656 491.6L668 491.6L666 494.6L658 494.6Z" fill="#3c4040"/>
<!-- vents -->
<path d="M570 507.4L630 508.6L630 517.6L566 517Z" fill="#050606"/>
<path d="M566 521.4L630 522L630 534L572 534Q567 533 566 528Z" fill="#050606"/>
<path d="M556 519.4H630" stroke="#9a9ea2" stroke-width="1.1"/>
<path d="M630 519.4H736" stroke="#3a3e3e" stroke-width="0.8"/>
<path d="M572 511H628M572 514.4H628M572 526H628M572 530H628" stroke="#1b1e1e" stroke-width="0.8"/>
<path d="M590 509.4H612M590 514H612" stroke="#3a4040" stroke-width="1.1" stroke-dasharray="2 4"/>
<rect x="637" y="510.8" width="11.6" height="4.4" fill="#c8ccd0"/>
<text x="642.8" y="514.3" font-size="3" fill="#222" text-anchor="middle" font-weight="bold">EPSON</text>
<!-- lens -->
<circle cx="682.6" cy="519.6" r="17.4" fill="#0a0b0b"/>
<circle cx="682.6" cy="519.6" r="15.2" fill="none" stroke="url(#lensRing)" stroke-width="3"/>
<circle cx="682.6" cy="519.6" r="12.6" fill="#0b0c0d"/>
<circle cx="682.6" cy="519.6" r="9.6" fill="url(#lens)"/>
<ellipse cx="681" cy="517" rx="3.6" ry="2.4" fill="#a9d6b0" opacity="0.6"/>
<circle cx="717.4" cy="531.6" r="2.8" fill="#3a3e40" stroke="#6a6e70" stroke-width="0.7"/>
<rect x="642.4" y="538.8" width="4" height="2.4" fill="#222"/>
</g>

<!-- connection lines -->
<g id="lines">
<path class="ln" d="M181.5 179H204V539H186"/>
<path class="ln" d="M181.8 295.5H204"/>
<path class="ln" d="M181.7 425.2H268"/>
<path class="ln" d="M544 211.2H518V512.2H544"/>
<path class="ln" d="M468.8 364.9H544"/>
<path class="ln" d="M410.7 381V448"/>
<path class="ar" d="M233.5 425.2L216.5 418.8L220 425.2L216.5 431.6Z"/>
<path class="ar" d="M502.4 364.9L485.1 358.4L488.6 364.9L485.1 371.4Z"/>
<path class="ar" d="M410.7 431.6L403.5 416L410.7 419.4L417.9 416Z"/>
</g>

<!-- labels -->
<g id="labels">
<text class="lb" x="66.1" y="238.5" font-size="18.5" textLength="82.5" lengthAdjust="spacingAndGlyphs">Computer</text>
<text class="lb" x="47.6" y="343" font-size="18.5" textLength="105.0" lengthAdjust="spacingAndGlyphs">Set Top Box</text>
<text class="lb" x="39.5" y="485.4" font-size="17.5" textLength="127.6" lengthAdjust="spacingAndGlyphs">PS3 Play Game</text>
<text class="lb" x="78.9" y="574.5" font-size="18" textLength="40.2" lengthAdjust="spacingAndGlyphs">DVD</text>
<text class="lb" x="636.8" y="289.5" font-size="18" textLength="24.2" lengthAdjust="spacingAndGlyphs">TV</text>
<text class="lb" x="618.2" y="444.1" font-size="17.5" textLength="63.0" lengthAdjust="spacingAndGlyphs">Display</text>
<text class="lb" x="615.5" y="569.1" font-size="17.5" textLength="75.3" lengthAdjust="spacingAndGlyphs">Projector</text>
<text class="bl" x="215.8" y="463.9" font-size="16" textLength="96.8" lengthAdjust="spacingAndGlyphs">HDMI Input</text>
<text class="bl" x="347.6" y="555.2" font-size="16" textLength="111.6" lengthAdjust="spacingAndGlyphs">Audio Output</text>
<text class="bl" x="409.9" y="303.9" font-size="15.8" textLength="103.3" lengthAdjust="spacingAndGlyphs">VGA Output</text>
</g>

<g id="bottom">
<rect x="27" y="622" width="705" height="122" fill="#fdfdfd"/>
<g filter="url(#b05)">
<use href="#icoHDMI" x="75" y="641.6"/>
<use href="#icoVGA" x="247.6" y="641.6"/>
<use href="#icoVGA" x="437" y="642.6"/>
<use href="#icoHDMI" x="611.2" y="641.8"/>
<!-- arrows -->
<path d="M169.6 690H220" stroke="#000" stroke-width="2.8"/>
<path d="M239.7 690L215.3 683L216.6 690L215.3 697Z" fill="#000"/>
<path d="M534.4 691.3H586" stroke="#000" stroke-width="2.8"/>
<path d="M604.4 691.3L579.7 684.6L581 691.3L579.7 698Z" fill="#000"/>
<!-- check -->
<path d="M184.7 651.3L196 644.9L202.7 654.7Q213 636 226.9 624.7Q224.4 632 227.7 638.7Q213 650 202.7 666.7Q195 657 184.7 651.3Z" fill="#1a9be8"/>
<!-- X -->
<text x="551.5" y="663.7" font-size="45" font-weight="bold" fill="#e41216" stroke="#e41216" stroke-width="1.6" textLength="26.2" lengthAdjust="spacingAndGlyphs">X</text>
</g>
</g>
</svg>
</body>
</html>
